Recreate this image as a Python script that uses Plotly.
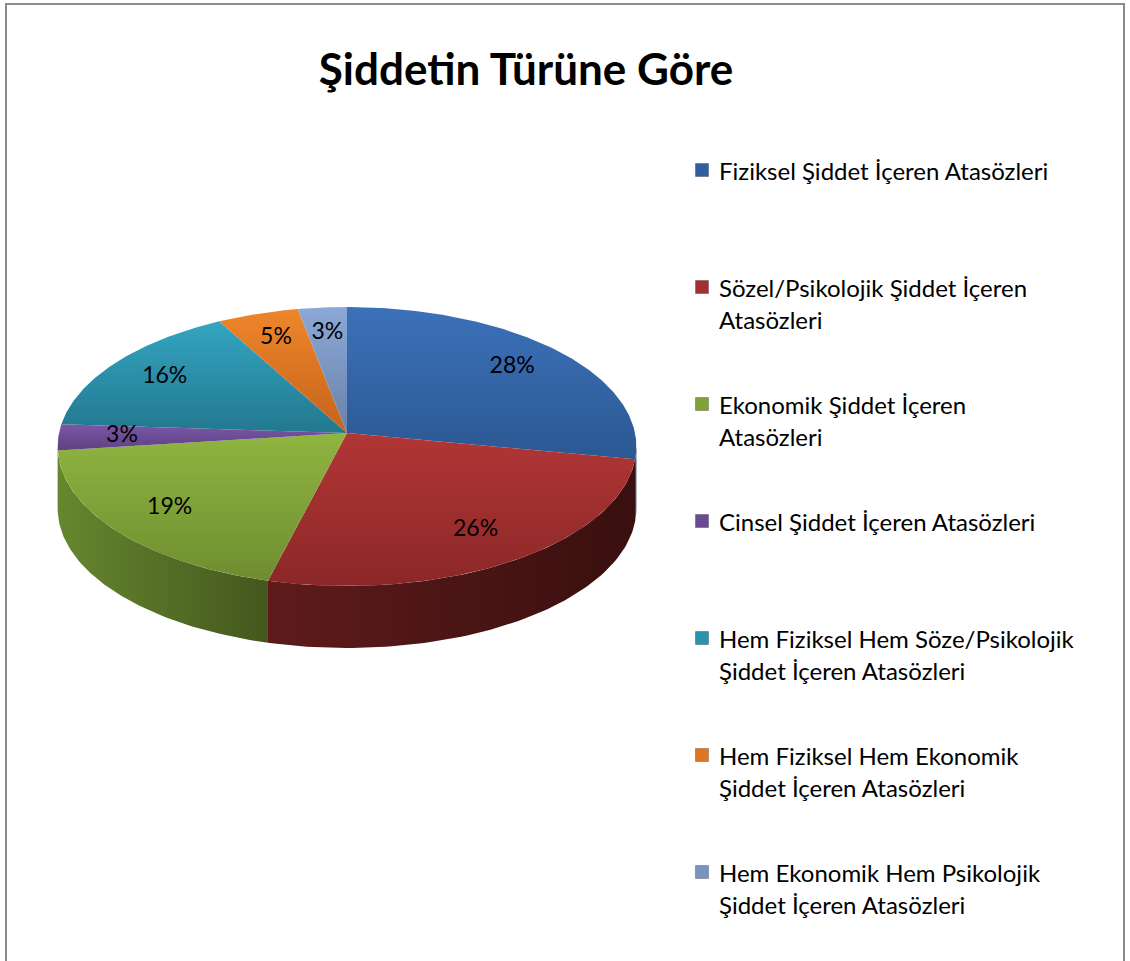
import numpy as np
import plotly.graph_objects as go

# ---------------- data ----------------
categories = [
    "Fiziksel Şiddet İçeren Atasözleri",
    "Sözel/Psikolojik Şiddet İçeren Atasözleri",
    "Ekonomik Şiddet İçeren Atasözleri",
    "Cinsel Şiddet İçeren Atasözleri",
    "Hem Fiziksel Hem Söze/Psikolojik Şiddet İçeren Atasözleri",
    "Hem Fiziksel Hem Ekonomik Şiddet İçeren Atasözleri",
    "Hem Ekonomik Hem Psikolojik Şiddet İçeren Atasözleri",
]
legend_lines = [
    ["Fiziksel Şiddet İçeren Atasözleri"],
    ["Sözel/Psikolojik Şiddet İçeren", "Atasözleri"],
    ["Ekonomik Şiddet İçeren", "Atasözleri"],
    ["Cinsel Şiddet İçeren Atasözleri"],
    ["Hem Fiziksel Hem Söze/Psikolojik", "Şiddet İçeren Atasözleri"],
    ["Hem Fiziksel Hem Ekonomik", "Şiddet İçeren Atasözleri"],
    ["Hem Ekonomik Hem Psikolojik", "Şiddet İçeren Atasözleri"],
]
values = [28, 26, 19, 3, 16, 5, 3]
title_text = "Şiddetin Türüne Göre"

# ---------------- style ----------------
# (upper colour, lower colour) of each top face
top_colors = [("#3b71ba", "#2c5892"), ("#b23636", "#8c2727"), ("#8fb541", "#6f8d30"),
              ("#7a57a7", "#5e4183"), ("#34a5c1", "#22788f"), ("#ee862a", "#c5631b"),
              ("#8ba8d6", "#6a82ab")]
# (left colour, right colour) of each side wall
side_colors = [("#2a4f80", "#1c3659"), ("#5f1b1b", "#390f0f"), ("#66872e", "#44571e"),
               ("#4e3770", "#3a2854"), ("#1f6a7e", "#164e5d"), ("#a4531a", "#7c3e12"),
               ("#5a6f93", "#46577a")]
legend_colors = ["#2f5f9e", "#a32f2f", "#7fa336", "#6a4a93", "#2a93ad", "#e0761f", "#7a94c2"]

W, H = 1130, 961
CX, CY = 347.0, 433.0     # apex of the pie on screen
R, A, B = 288.0, 138.2, 0.0968   # horizontal radius, vertical scale, perspective
DEPTH = 62.0
FONT = "Lato"


def proj(theta, r=1.0, dy=0.0):
    u = r * np.sin(theta)
    v = r * np.cos(theta)
    s = 1 + B * v
    return CX + R * u / s, CY - A * v / s + dy


fig = go.Figure()

total = float(sum(values))
fracs = np.array(values) / total
bounds = np.concatenate([[0.0], np.cumsum(fracs)]) * 2 * np.pi
t_front0 = np.arccos(-B)
t_front1 = 2 * np.pi - t_front0

# sides (drawn first)
for i in range(len(values)):
    lo = max(bounds[i], t_front0)
    hi = min(bounds[i + 1], t_front1)
    if hi <= lo:
        continue
    th = np.linspace(lo, hi, 80)
    xt, yt = proj(th)
    xb, yb = proj(th[::-1], dy=DEPTH)
    fig.add_trace(go.Scatter(
        x=np.concatenate([xt, xb]), y=np.concatenate([yt, yb]),
        mode="lines", fill="toself", line=dict(width=0),
        fillgradient=dict(type="horizontal",
                          colorscale=[[0, side_colors[i][0]], [1, side_colors[i][1]]]),
        hoverinfo="skip", showlegend=False))

# top faces
for i in range(len(values)):
    th = np.linspace(bounds[i], bounds[i + 1], max(8, int(values[i] * 6)))
    xa, ya = proj(th)
    fig.add_trace(go.Scatter(
        x=np.concatenate([[CX], xa, [CX]]), y=np.concatenate([[CY], ya, [CY]]),
        mode="lines", fill="toself", line=dict(width=0),
        fillgradient=dict(type="vertical",
                          colorscale=[[0, top_colors[i][1]], [1, top_colors[i][0]]]),
        name=categories[i], hoverinfo="name", showlegend=False))

# percentage labels
mids = (bounds[:-1] + bounds[1:]) / 2
lx, ly = proj(mids, r=0.78)
fig.add_trace(go.Scatter(
    x=lx, y=ly, mode="text",
    text=[f"{round(v / total * 100)}%" for v in values],
    textfont=dict(family=FONT, size=23, color="#000000"),
    hoverinfo="skip", showlegend=False))

# legend (squares + text)
LEG_X, LEG_Y0, LEG_DY, LINE_DY = 702, 170, 117, 32
leg_y = [LEG_Y0 + k * LEG_DY for k in range(len(categories))]
fig.add_trace(go.Scatter(
    x=[LEG_X] * len(categories), y=leg_y, mode="markers",
    marker=dict(symbol="square", size=13, color=legend_colors,
                line=dict(width=1, color="rgba(0,0,0,0.25)")),
    hovertext=categories, hoverinfo="text", showlegend=False))
for k, lines in enumerate(legend_lines):
    for j, t in enumerate(lines):
        fig.add_annotation(x=LEG_X + 15, y=leg_y[k] + j * LINE_DY, text=t,
                           showarrow=False, xanchor="left", yanchor="middle",
                           font=dict(family=FONT, size=24, color="#000000"))

# frame
fig.add_shape(type="rect", x0=6, y0=4, x1=1124, y1=970,
              line=dict(color="#8c8c8c", width=2), fillcolor="rgba(0,0,0,0)")

fig.update_layout(
    width=W, height=H,
    margin=dict(l=0, r=0, t=0, b=0),
    paper_bgcolor="white", plot_bgcolor="white",
    title=dict(text=f"<b>{title_text}</b>", x=526 / W, xanchor="center",
               y=1 - 70 / H, yanchor="middle",
               font=dict(family=FONT, size=44, color="#000000")),
    xaxis=dict(range=[0, W], visible=False, fixedrange=True),
    yaxis=dict(range=[H, 0], visible=False, fixedrange=True),
    showlegend=False,
)

fig.write_html("out.html")
